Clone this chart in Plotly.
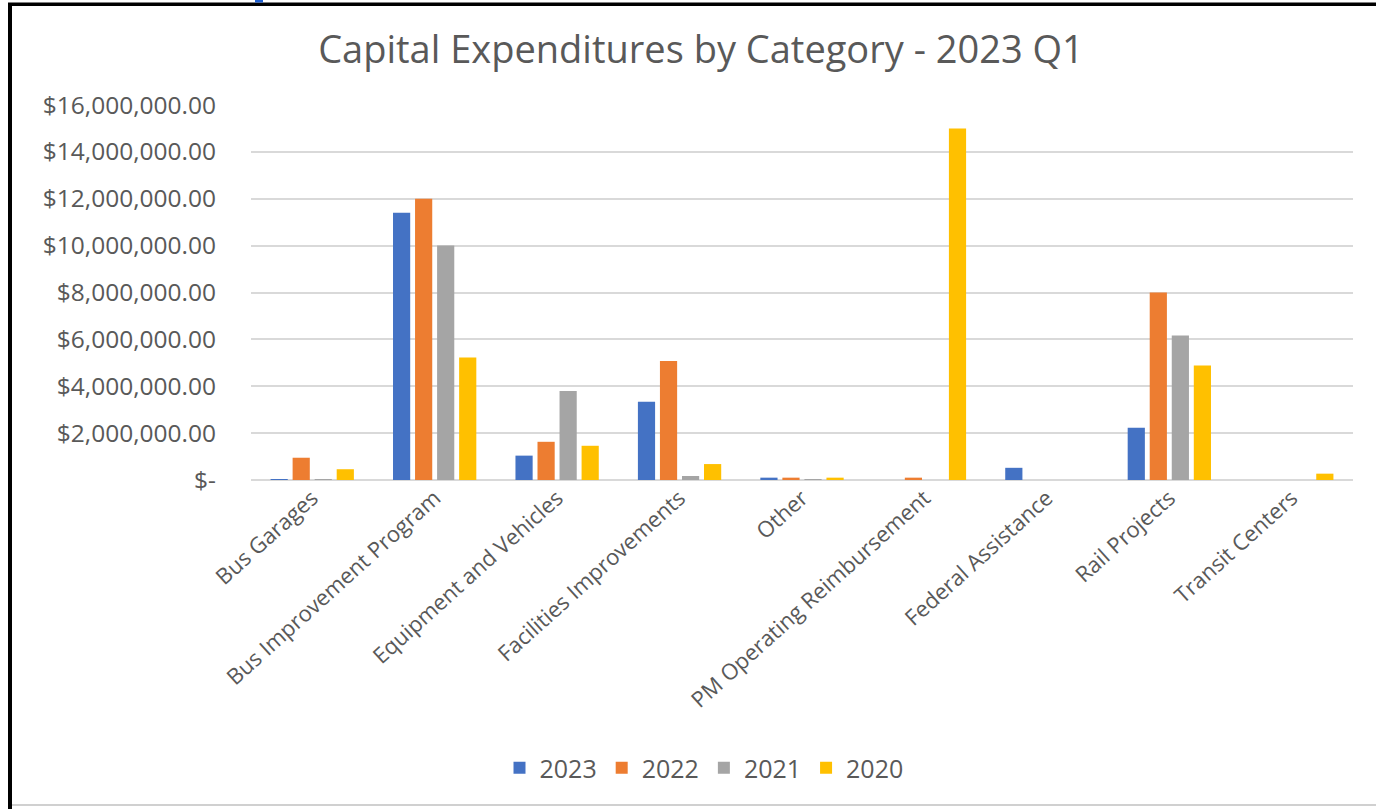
import plotly.graph_objects as go

categories = ["Bus Garages", "Bus Improvement Program", "Equipment and Vehicles",
              "Facilities Improvements", "Other", "PM Operating Reimbursement",
              "Federal Assistance", "Rail Projects", "Transit Centers"]
v2023 = [30000, 11400000, 1040000, 3340000, 100000, 0, 520000, 2230000, 0]
v2022 = [950000, 12000000, 1630000, 5080000, 100000, 100000, 0, 8000000, 0]
v2021 = [30000, 10010000, 3800000, 170000, 20000, 0, 0, 6170000, 0]
v2020 = [460000, 5230000, 1460000, 680000, 100000, 15000000, 0, 4890000, 270000]
series = [("2023", v2023, "#4472C4"), ("2022", v2022, "#ED7D31"),
          ("2021", v2021, "#A5A5A5"), ("2020", v2020, "#FFC000")]
tickvals = [0, 2e6, 4e6, 6e6, 8e6, 10e6, 12e6, 14e6, 16e6]
ticktext = ["$-", "$2,000,000.00", "$4,000,000.00", "$6,000,000.00", "$8,000,000.00",
            "$10,000,000.00", "$12,000,000.00", "$14,000,000.00", "$16,000,000.00"]

FONT = "Open Sans"
GREY = "#595959"

fig = go.Figure()
for name, vals, col in series:
    fig.add_trace(go.Bar(x=categories, y=vals, name=name, marker_color=col,
                         marker_line_width=0))

W, H = 1376, 809
L, R, T, B = 251, 23, 105, 329
pw, ph = W - L - R, H - T - B

def px_x(x):
    return (x - L) / pw

def px_y(y):
    return (H - B - y) / ph

fig.update_layout(
    width=W, height=H,
    margin=dict(l=L, r=R, t=T, b=B, autoexpand=False),
    paper_bgcolor="white", plot_bgcolor="white",
    barmode="group", bargap=0.28, bargroupgap=0.22,
    title=dict(text="Capital Expenditures by Category - 2023 Q1",
               font=dict(family=FONT, size=38, color=GREY),
               x=701 / W, xanchor="center", y=1 - 50 / H, yanchor="middle"),
    font=dict(family=FONT, color=GREY),
    legend=dict(orientation="h", xref="container", yref="container",
                x=704 / W, xanchor="center", y=1 - 768 / H, yanchor="middle",
                font=dict(family=FONT, size=25, color=GREY),
                itemwidth=30, traceorder="normal"),
    xaxis=dict(tickangle=-42, tickfont=dict(family=FONT, size=22, color=GREY),
               showgrid=False, showline=False, ticks=""),
    yaxis=dict(range=[0, 16e6], tickvals=tickvals, ticktext=ticktext,
               tickfont=dict(family=FONT, size=24.5, color=GREY),
               showgrid=True, gridcolor="#D9D9D9", gridwidth=1.5,
               zeroline=True, zerolinecolor="#D9D9D9", zerolinewidth=1.5,
               showline=False, ticks="", ticklabelstandoff=34),
    shapes=[
        dict(type="rect", xref="paper", yref="paper",
             x0=px_x(8), x1=px_x(12), y0=px_y(809), y1=px_y(3),
             fillcolor="black", line_width=0, layer="above"),
        dict(type="rect", xref="paper", yref="paper",
             x0=px_x(8), x1=px_x(1376), y0=px_y(6), y1=px_y(2.5),
             fillcolor="black", line_width=0, layer="above"),
        dict(type="rect", xref="paper", yref="paper",
             x0=px_x(12), x1=px_x(1376), y0=px_y(806), y1=px_y(804),
             fillcolor="#D0D0D0", line_width=0, layer="above"),
        dict(type="rect", xref="paper", yref="paper",
             x0=px_x(255), x1=px_x(263), y0=px_y(2.5), y1=px_y(0),
             fillcolor="#1F5FD0", line_width=0, layer="above"),
    ],
)

fig.write_html("out.html", config={"displayModeBar": False},
               post_script="document.body.style.margin='0';")
